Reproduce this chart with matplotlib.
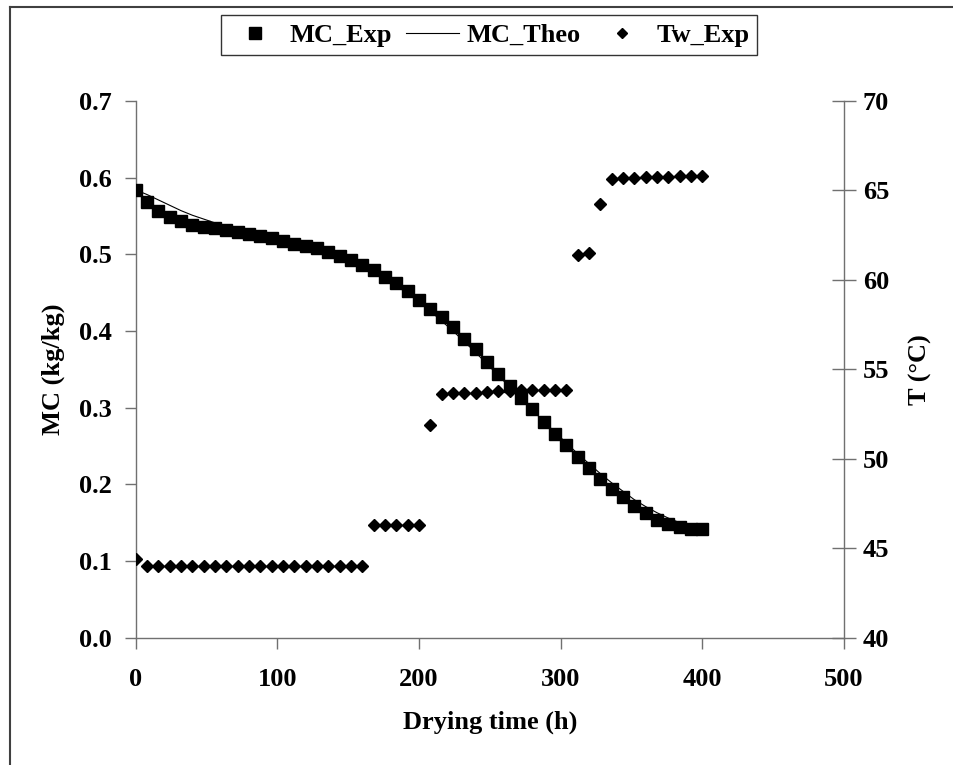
import matplotlib.pyplot as plt
from matplotlib.lines import Line2D
import numpy as np

# drying time (h), one reading every 8 h
time_h = np.arange(0, 401, 8)

mc_exp = [0.584, 0.568, 0.557, 0.549, 0.543, 0.538, 0.536, 0.534, 0.532, 0.529,
          0.527, 0.524, 0.521, 0.518, 0.514, 0.511, 0.508, 0.503, 0.498, 0.493,
          0.486, 0.480, 0.471, 0.462, 0.452, 0.441, 0.429, 0.418, 0.405, 0.390,
          0.376, 0.360, 0.344, 0.328, 0.313, 0.298, 0.281, 0.266, 0.251, 0.236,
          0.221, 0.207, 0.194, 0.183, 0.172, 0.162, 0.154, 0.148, 0.144, 0.142,
          0.142]

mc_theo = [0.584, 0.578, 0.571, 0.564, 0.557, 0.551, 0.546, 0.541, 0.537, 0.533,
           0.529, 0.525, 0.521, 0.517, 0.513, 0.509, 0.505, 0.500, 0.495, 0.489,
           0.483, 0.476, 0.468, 0.459, 0.449, 0.438, 0.426, 0.413, 0.400, 0.386,
           0.372, 0.357, 0.342, 0.327, 0.312, 0.297, 0.282, 0.268, 0.254, 0.240,
           0.227, 0.214, 0.202, 0.191, 0.180, 0.171, 0.163, 0.156, 0.150, 0.146,
           0.143]

tw_exp = [44.4, 44.0, 44.0, 44.0, 44.0, 44.0, 44.0, 44.0, 44.0, 44.0,
          44.0, 44.0, 44.0, 44.0, 44.0, 44.0, 44.0, 44.0, 44.0, 44.0,
          44.0, 46.3, 46.3, 46.3, 46.3, 46.3, 51.9, 53.6, 53.65, 53.7,
          53.7, 53.72, 53.77, 53.8, 53.82, 53.82, 53.84, 53.86, 53.87, 61.4,
          61.5, 64.25, 65.65, 65.7, 65.72, 65.75, 65.76, 65.77, 65.78, 65.79,
          65.8]

plt.rcParams['font.family'] = ['Liberation Serif', 'DejaVu Serif']
plt.rcParams['font.weight'] = 'bold'
fs = 19
axis_col = '#707070'

fig = plt.figure(figsize=(9.54, 7.65), dpi=100)
ax = fig.add_axes([0.1422, 0.1664, 0.7425, 0.7016])
ax2 = ax.twinx()

ax.plot(time_h, mc_exp, 's', color='black', ms=8.8, zorder=3)
ax.plot(time_h, mc_theo, '-', color='black', lw=0.8, zorder=4)
ax2.plot(time_h, tw_exp, 'D', color='black', ms=6.5, zorder=3)

ax.set_xlim(0, 500)
ax.set_ylim(0, 0.7)
ax2.set_ylim(40, 70)
ax.set_xticks(range(0, 501, 100))
ax.set_yticks(np.arange(0, 0.71, 0.1))
ax.set_yticklabels([f'{v:.1f}' for v in np.arange(0, 0.71, 0.1)])
ax2.set_yticks(range(40, 71, 5))

for a in (ax, ax2):
    a.spines['top'].set_visible(False)
    for s in a.spines.values():
        s.set_color(axis_col)
        s.set_linewidth(1.0)
ax.spines['right'].set_visible(False)
ax2.spines['left'].set_visible(False)
ax2.spines['bottom'].set_visible(False)

ax.tick_params(axis='x', direction='out', length=8, width=1, color=axis_col,
               labelsize=fs, pad=14)
ax.tick_params(axis='y', direction='out', length=8, width=1, color=axis_col,
               labelsize=fs, pad=9)
ax2.tick_params(axis='y', direction='inout', length=17, width=1, color=axis_col,
                labelsize=fs, pad=5)

ax.set_xlabel('Drying time (h)', fontsize=fs, fontweight='bold', labelpad=14)
ax.set_ylabel('MC (kg/kg)', fontsize=fs, fontweight='bold', labelpad=10)
ax2.set_ylabel('T (°C)', fontsize=fs, fontweight='bold', labelpad=14)

handles = [
    Line2D([], [], marker='s', ls='none', color='black', ms=9),
    Line2D([], [], ls='-', color='black', lw=0.8),
    Line2D([], [], marker='D', ls='none', color='black', ms=5.5),
]
leg = fig.legend(handles, ['MC_Exp', 'MC_Theo', 'Tw_Exp'], ncol=3,
                 loc='center', bbox_to_anchor=(489 / 954, 1 - 35 / 765),
                 bbox_transform=fig.transFigure, fontsize=fs, frameon=True,
                 fancybox=False, handlelength=2.0, handletextpad=0.3,
                 columnspacing=0.55, borderpad=0.3, borderaxespad=0)
leg.get_frame().set_edgecolor('black')
leg.get_frame().set_linewidth(1.0)

# outer chart border (left and top edges only visible)
fig.add_artist(Line2D([10 / 954, 10 / 954], [0, 1 - 7 / 765], color='#404040',
                      lw=1.5, transform=fig.transFigure))
fig.add_artist(Line2D([10 / 954, 1], [1 - 7 / 765, 1 - 7 / 765], color='#404040',
                      lw=1.5, transform=fig.transFigure))

fig.savefig('out.png', dpi=100)
